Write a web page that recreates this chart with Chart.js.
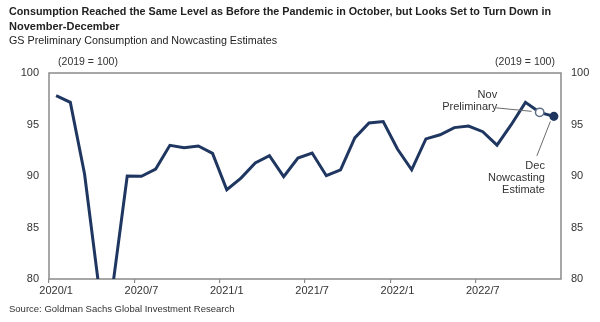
<!DOCTYPE html>
<html>
<head>
<meta charset="utf-8">
<script src="https://cdn.jsdelivr.net/npm/chart.js@4/dist/chart.umd.min.js"></script>
<style>
  html, body { margin: 0; padding: 0; background: #fff; }
  #chart { display: block; }
</style>
</head>
<body>
<canvas id="chart" width="600" height="322"></canvas>
<script>
// ==========================================
// Data
// ==========================================
const years = [2020, 2021, 2022];
const months = [];
years.forEach(y => { for (let m = 1; m <= 12; m++) months.push(y + '/' + m); });

// GS consumption index, 2019 = 100 (Nov = preliminary, Dec = nowcast)
const consumption = [
  97.8, 97.15, 90.2, 79.3, 79.5, 90.0, 89.97, 90.68, 92.98, 92.75, 92.91, 92.2,
  88.67, 89.8, 91.26, 91.97, 89.94, 91.75, 92.23, 90.03, 90.6, 93.7, 95.15, 95.28,
  92.62, 90.6, 93.6, 94.0, 94.7, 94.85, 94.3, 93.0, 94.98, 97.15, 96.18, 95.79
];

const tickLabels = ['2020/1', '2020/7', '2021/1', '2021/7', '2022/1', '2022/7'];
const yTicks = [80, 85, 90, 95, 100];

const titleLines = [
  'Consumption Reached the Same Level as Before the Pandemic in October, but Looks Set to Turn Down in',
  'November-December'
];
const subtitle = 'GS Preliminary Consumption and Nowcasting Estimates';
const source = 'Source: Goldman Sachs Global Investment Research';
const unitLabel = '(2019 = 100)';
const novLabel = ['Nov', 'Preliminary'];
const decLabel = ['Dec', 'Nowcasting', 'Estimate'];

const NOV = 34, DEC = 35;

// ==========================================
// Styles
// ==========================================
const NAVY = '#1f3760';
const FRAME = '#8a8a8a';
const TEXT = '#333333';
const FONT = '"Liberation Sans", Arial, Helvetica, sans-serif';

// ==========================================
// Plugins
// ==========================================
const framePlugin = {
  id: 'frame',
  beforeDatasetsDraw(chart) {
    const { ctx, chartArea: a } = chart;
    ctx.save();
    ctx.strokeStyle = FRAME;
    ctx.lineWidth = 1.5;
    ctx.strokeRect(a.left, a.top, a.right - a.left, a.bottom - a.top);
    ctx.restore();
  }
};

const textPlugin = {
  id: 'texts',
  afterDraw(chart) {
    const { ctx, chartArea: a, scales } = chart;
    ctx.save();
    ctx.textBaseline = 'middle';
    ctx.fillStyle = '#222';

    // title + subtitle
    ctx.font = 'bold 11px ' + FONT;
    ctx.textAlign = 'left';
    ctx.fillText(titleLines[0], 9, 12, 542);
    ctx.fillText(titleLines[1], 9, 26.5, 542);
    ctx.font = '11px ' + FONT;
    ctx.fillText(subtitle, 9, 41, 268);

    // unit labels
    ctx.fillStyle = TEXT;
    ctx.font = '10.5px ' + FONT;
    ctx.textAlign = 'center';
    ctx.fillText(unitLabel, a.left + 39, a.top - 10.5);
    ctx.fillText(unitLabel, a.right - 36, a.top - 10.5);

    // source
    ctx.font = '9.5px ' + FONT;
    ctx.textAlign = 'left';
    ctx.fillText(source, 9, 309);

    // annotations
    const x = scales.x, y = scales.y;
    const nx = x.getPixelForValue(NOV), ny = y.getPixelForValue(consumption[NOV]);
    const dx = x.getPixelForValue(DEC), dy = y.getPixelForValue(consumption[DEC]);
    ctx.font = '11px ' + FONT;
    ctx.textAlign = 'right';
    ctx.fillStyle = TEXT;
    ctx.fillText(novLabel[0], nx - 42.5, ny - 17.5);
    ctx.fillText(novLabel[1], nx - 42.5, ny - 5);
    decLabel.forEach((t, i) => ctx.fillText(t, dx - 9, dy + 50 + i * 11.7));

    ctx.strokeStyle = '#6b6b6b';
    ctx.lineWidth = 1;
    ctx.beginPath();
    ctx.moveTo(nx - 43.5, ny - 4.5);
    ctx.lineTo(nx - 8, ny - 1);
    ctx.moveTo(dx - 17, dy + 39.5);
    ctx.lineTo(dx - 3.5, dy + 5);
    ctx.stroke();
    ctx.restore();
  }
};

// ==========================================
// Chart
// ==========================================
const tickFont = { family: FONT, size: 11 };

new Chart(document.getElementById('chart'), {
  type: 'line',
  data: {
    labels: months,
    datasets: [{
      data: consumption,
      borderColor: NAVY,
      borderWidth: 3,
      tension: 0,
      clip: 0,
      pointRadius: c => c.dataIndex === NOV ? 4.2 : (c.dataIndex === DEC ? 3.8 : 0),
      pointBackgroundColor: c => c.dataIndex === NOV ? '#ffffff' : NAVY,
      pointBorderColor: c => c.dataIndex === NOV ? '#5f6f86' : NAVY,
      pointBorderWidth: 1.5,
      pointHoverRadius: 0
    }]
  },
  options: {
    responsive: false,
    animation: false,
    events: [],
    layout: { padding: { top: 73, left: 0, right: 0, bottom: 0 } },
    plugins: {
      legend: { display: false },
      tooltip: { enabled: false },
      title: { display: false }
    },
    scales: {
      x: {
        type: 'category',
        offset: true,
        border: { display: false },
        grid: {
          offset: true,
          drawOnChartArea: false,
          drawTicks: true,
          tickLength: 4,
          lineWidth: 1.2,
          color: c => c.index % 6 === 0 ? FRAME : 'rgba(0,0,0,0)'
        },
        ticks: {
          autoSkip: false,
          maxRotation: 0,
          padding: 1,
          color: TEXT,
          font: tickFont,
          callback: (v, i) => tickLabels.includes(months[i]) ? months[i] : ''
        },
        afterFit: s => { s.height = 43; }
      },
      y: {
        position: 'left',
        min: 80,
        max: 100,
        border: { display: false },
        grid: { drawOnChartArea: false, drawTicks: false },
        afterBuildTicks: s => { s.ticks = yTicks.map(v => ({ value: v })); },
        ticks: { padding: 10, color: TEXT, font: tickFont },
        afterFit: s => { s.width = 49; }
      },
      y2: {
        position: 'right',
        min: 80,
        max: 100,
        border: { display: false },
        grid: { drawOnChartArea: false, drawTicks: false },
        afterBuildTicks: s => { s.ticks = yTicks.map(v => ({ value: v })); },
        ticks: { padding: 10, color: TEXT, font: tickFont },
        afterFit: s => { s.width = 39; }
      }
    }
  },
  plugins: [framePlugin, textPlugin]
});
</script>
</body>
</html>
